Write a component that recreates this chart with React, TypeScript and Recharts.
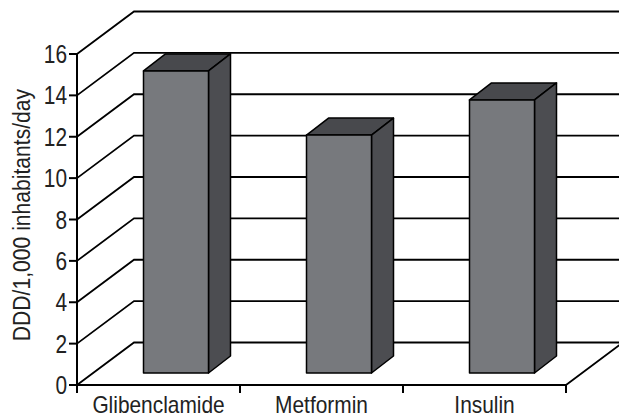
import { BarChart, Bar, XAxis, YAxis, CartesianGrid } from 'recharts';

const categories = ['Glibenclamide', 'Metformin', 'Insulin'];
const values = [14.6, 11.5, 13.2];
const yTicks = [0, 2, 4, 6, 8, 10, 12, 14, 16];

const W = 619;
const H = 418;
const margin = { top: 54, right: 53, bottom: 0, left: 0 };
const axisWidth = 77;
const axisHeight = 33;
const bandWidth = (W - axisWidth - margin.right) / categories.length;
const plotBottom = H - axisHeight;

// depth of the fake 3d walls and of the bars
const wallX = 57;
const wallY = 42.5;
const barShiftX = 17.5;
const barShiftY = 12;
const barDepthX = 22;
const barDepthY = 17;

// no narrow font installed, so squeeze the regular one
const font = '"Liberation Sans", sans-serif';
const squeeze = 0.835;
const textColor = '#222';

const data = categories.map((name, i) => ({ name, value: values[i] }));

const GridLine = ({ x1, x2, y1 }: any) => {
  const isFloor = y1 >= plotBottom - 1;
  const pts = [
    [x1, y1],
    [x1 + wallX, y1 - wallY],
    [x2 + wallX, y1 - wallY],
  ];
  if (isFloor) pts.push([x2, y1]);
  return (
    <polyline
      points={pts.map((p) => p.join(',')).join(' ')}
      fill="none"
      stroke="#000"
      strokeWidth={1.8}
    />
  );
};

const Bar3d = ({ x, y, width, height }: any) => {
  const l = x + barShiftX;
  const r = l + width;
  const t = y - barShiftY;
  const b = t + height;
  const edge = { stroke: '#000', strokeWidth: 1.5, strokeLinejoin: 'round' as const };
  return (
    <g>
      <polygon
        points={`${l},${t} ${r},${t} ${r + barDepthX},${t - barDepthY} ${l + barDepthX},${t - barDepthY}`}
        fill="#48494d"
        {...edge}
      />
      <polygon
        points={`${r},${t} ${r + barDepthX},${t - barDepthY} ${r + barDepthX},${b - barDepthY} ${r},${b}`}
        fill="#4c4d51"
        {...edge}
      />
      <rect x={l} y={t} width={width} height={height} fill="#77797d" {...edge} />
    </g>
  );
};

const CategoryTick = ({ x, payload, index }: any) => {
  const left = x - bandWidth / 2;
  const top = plotBottom;
  return (
    <g>
      <line x1={left} x2={left} y1={top} y2={top + 8} stroke="#000" strokeWidth={2} />
      {index === categories.length - 1 && (
        <line x1={left + bandWidth} x2={left + bandWidth} y1={top} y2={top + 8} stroke="#000" strokeWidth={2} />
      )}
      <text
        transform={`translate(${x},${top + 27.5}) scale(0.87,1)`}
        textAnchor="middle"
        fontSize={24}
        fontFamily={font}
        fill={textColor}
      >
        {payload.value}
      </text>
    </g>
  );
};

const ValueTick = ({ x, y, payload }: any) => (
  <text
    transform={`translate(${x},${y + 9}) scale(${squeeze},1)`}
    textAnchor="end"
    fontSize={25}
    fontFamily={font}
    fill={textColor}
  >
    {payload.value}
  </text>
);

const YLabel = () => (
  <text
    transform="translate(30,215) rotate(-90) scale(0.88,1)"
    textAnchor="middle"
    fontSize={24}
    fontFamily={font}
    fill={textColor}
  >
    DDD/1,000 inhabitants/day
  </text>
);

const App = () => {
  return (
    <div style={{ position: 'absolute', left: 0, top: 0, width: W, height: H, overflow: 'hidden', background: '#fff' }}>
      <BarChart width={W} height={H} data={data} margin={margin} barSize={65}>
        <CartesianGrid vertical={false} horizontal={(props: any) => <GridLine key={props.key} {...props} />} />
        <XAxis
          dataKey="name"
          height={axisHeight}
          axisLine={{ stroke: '#000', strokeWidth: 2 }}
          tickLine={false}
          interval={0}
          tick={<CategoryTick />}
        />
        <YAxis
          width={axisWidth}
          domain={[0, 16]}
          ticks={yTicks}
          interval={0}
          axisLine={{ stroke: '#000', strokeWidth: 2 }}
          tickLine={{ stroke: '#000', strokeWidth: 2 }}
          tickSize={8}
          tick={<ValueTick />}
          label={<YLabel />}
        />
        <Bar dataKey="value" shape={<Bar3d />} isAnimationActive={false} />
      </BarChart>
    </div>
  );
};

export default App;
